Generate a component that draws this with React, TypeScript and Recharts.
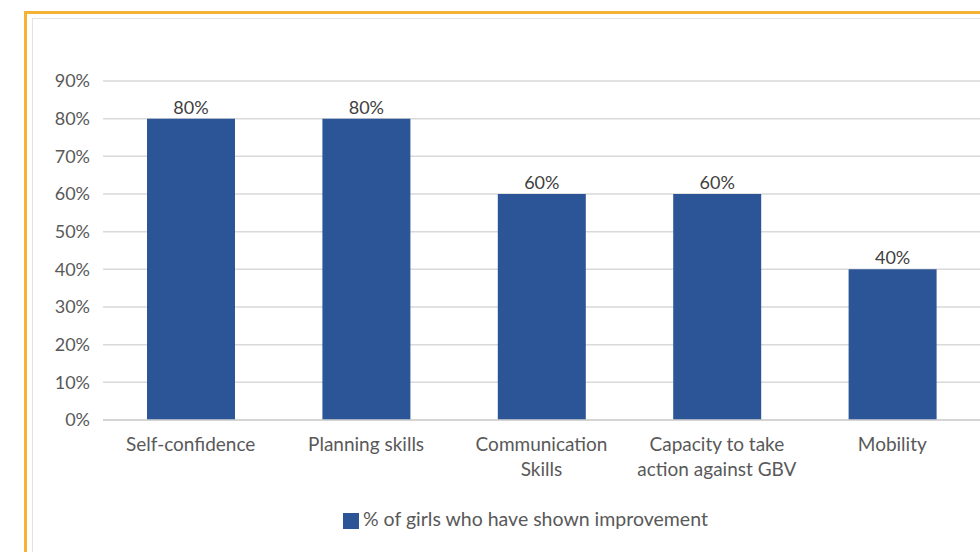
import React from "react";
import { BarChart, Bar, XAxis, YAxis, CartesianGrid, LabelList, Legend } from "recharts";

const categories = [
  "Self-confidence",
  "Planning skills",
  "Communication\nSkills",
  "Capacity to take\naction against GBV",
  "Mobility",
];
const improvement = [0.8, 0.8, 0.6, 0.6, 0.4];
const yTicks = [0, 0.1, 0.2, 0.3, 0.4, 0.5, 0.6, 0.7, 0.8, 0.9];
const seriesName = "% of girls who have shown improvement";

const data = categories.map((c, i) => ({ category: c, value: improvement[i] }));

const FONT = "Lato, 'Liberation Sans', sans-serif";
const pct = (v: number) => `${Math.round(v * 100)}%`;

const XTick = (props: any) => {
  const { x, y, payload } = props;
  const lines = String(payload.value).split("\n");
  return (
    <text x={x} y={y} textAnchor="middle" fill="#595959" fontSize={19} fontFamily={FONT}>
      {lines.map((l, i) => (
        <tspan key={i} x={x} dy={i === 0 ? 31 : 25}>
          {l}
        </tspan>
      ))}
    </text>
  );
};

export default function App() {
  return (
    <div style={{ position: "fixed", left: 0, top: 0, width: 980, height: 552, background: "#fff", overflow: "hidden" }}>
      <div
        style={{
          position: "absolute",
          left: 24,
          top: 11,
          width: 1000,
          height: 600,
          borderLeft: "3px solid #F5B335",
          borderTop: "3px solid #F5B335",
        }}
      />
      <div
        style={{
          position: "absolute",
          left: 32,
          top: 18,
          width: 1000,
          height: 533,
          borderLeft: "1px solid #E3E3E3",
          borderTop: "1px solid #E3E3E3",
          borderBottom: "1px solid #E3E3E3",
        }}
      />
      <div style={{ position: "absolute", left: 0, top: 0 }}>
        <BarChart width={980} height={552} data={data} margin={{ top: 81, right: 0, bottom: 79, left: 43 }} barSize={88}>
          <CartesianGrid vertical={false} stroke="#D9D9D9" strokeWidth={1.5} />
          <XAxis
            dataKey="category"
            axisLine={{ stroke: "#D0D0D0", strokeWidth: 1.5 }}
            tickLine={false}
            tickSize={0}
            tickMargin={0}
            interval={0}
            tick={<XTick />}
          />
          <YAxis
            domain={[0, 0.9]}
            ticks={yTicks}
            tickFormatter={pct}
            axisLine={false}
            tickLine={false}
            tickSize={0}
            tickMargin={13}
            width={60}
            tick={{ fill: "#595959", fontSize: 18, fontFamily: FONT }}
          />
          <Bar dataKey="value" name={seriesName} fill="#2C5597" isAnimationActive={false}>
            <LabelList
              dataKey="value"
              position="top"
              offset={5}
              formatter={(v: any) => pct(Number(v))}
              style={{ fill: "#404040", fontSize: 18, fontFamily: FONT }}
            />
          </Bar>
          <Legend
            align="left"
            iconType="square"
            iconSize={16}
            wrapperStyle={{ position: "absolute", left: 343, top: 507, width: 440, fontFamily: FONT, fontSize: 19.5 }}
            formatter={(v: any) => <span style={{ color: "#595959" }}>{v}</span>}
          />
        </BarChart>
      </div>
    </div>
  );
}
